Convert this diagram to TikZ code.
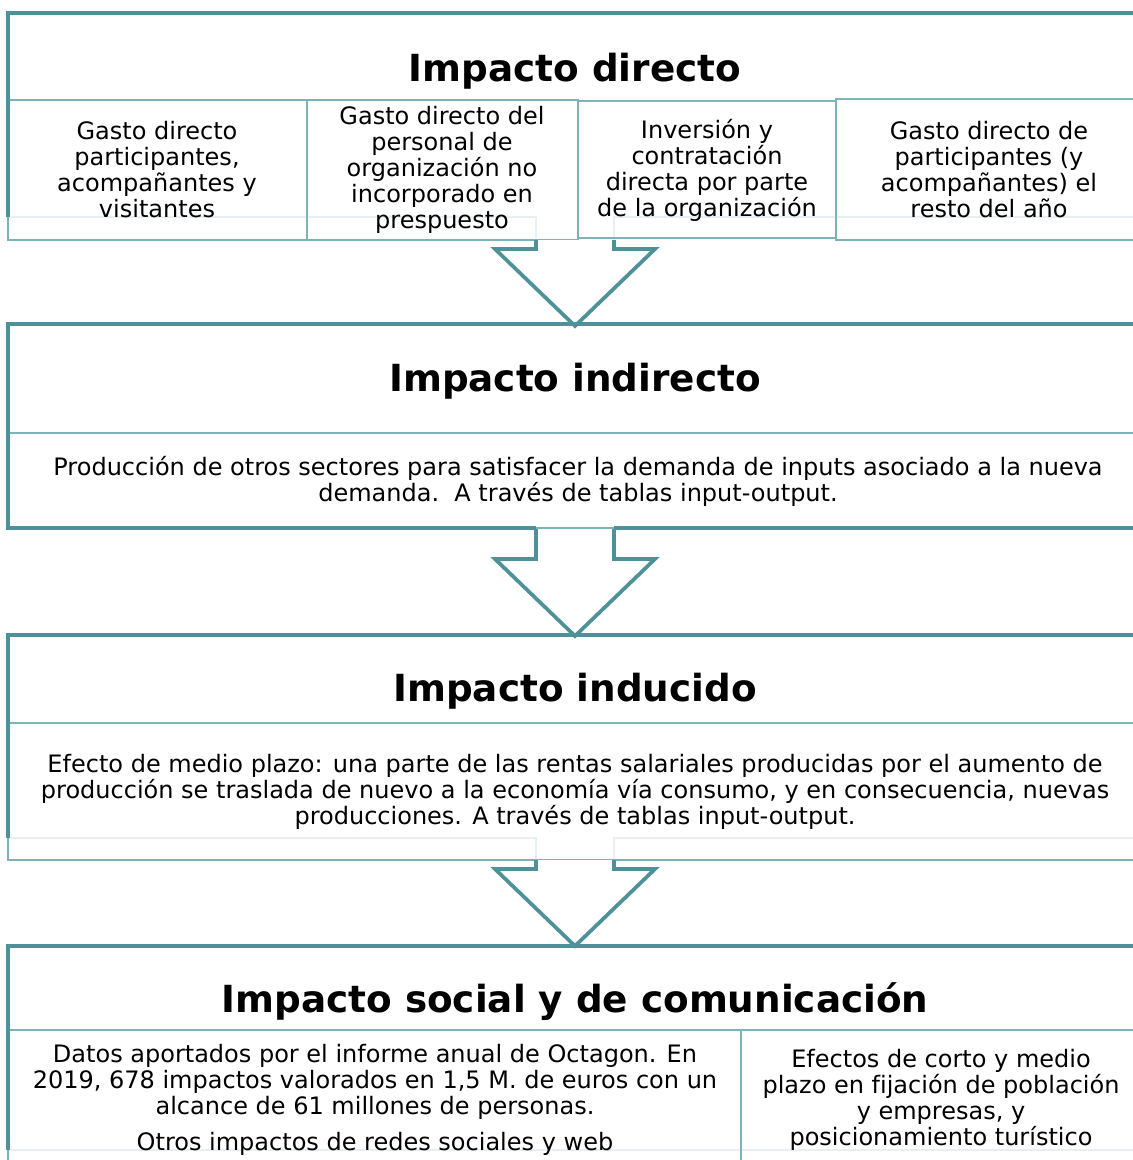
\documentclass[tikz,border=0pt]{standalone}
\usepackage{fontspec}
\setmainfont{DejaVu Sans}[Ligatures=NoCommon]
\definecolor{tdark}{HTML}{4F9199}
\definecolor{tlight}{HTML}{7DB2B9}
\definecolor{tfaint}{HTML}{E6EFF1}
\begin{document}
\begin{tikzpicture}[x=0.75pt,y=-0.75pt,
  dk/.style={draw=tdark,line width=2.8pt},
  lt/.style={draw=tlight,line width=1.9pt},
  fl/.style={draw=tfaint,line width=1.9pt},
  arr/.style={draw=tdark,line width=2.8pt,fill=white,line join=miter},
  ttl/.style={font=\fontsize{28}{30}\selectfont\bfseries,inner sep=0pt},
  body/.style={font=\fontsize{18}{19.5}\selectfont,align=center,inner sep=0pt}]
\useasboundingbox (0,0) rectangle (1132,1160);

% ---------- Level 1 ----------
\draw[fl] (8,217) -- (536,217) -- (536,240);
\draw[fl] (614,240) -- (614,217) -- (1145,217);
\draw[lt] (8,100) rectangle (307,240);
\draw[lt] (307,100) rectangle (578,240);
\draw[lt] (578,101) rectangle (836,238);
\draw[lt] (836,99) rectangle (1145,240);
\draw[dk] (1145,13) -- (8,13) -- (8,217);
\draw[arr] (536,240) -- (536,249) -- (495,249) -- (575,326) -- (655,249) -- (614,249) -- (614,240);

\node[ttl] (t1) at (575,71) {Impacto directo};
\node[body] (a1) at (157,170) {Gasto directo\\participantes,\\acompañantes y\\visitantes};
\node[body] (b1) at (442,170) {Gasto directo del\\personal de\\organización no\\incorporado en\\prespuesto};
\node[body] (c1) at (707,170) {Inversión y\\contratación\\directa por parte\\de la organización};
\node[body] (d1) at (989,170) {Gasto directo de\\participantes (y\\acompañantes) el\\resto del año};

% ---------- Level 2 ----------
\draw[lt] (8,433) rectangle (1145,528);
\draw[dk] (1145,324) -- (8,324) -- (8,528) -- (536,528);
\draw[dk] (614,528) -- (1145,528);
\draw[arr] (536,528) -- (536,559) -- (495,559) -- (575,636) -- (655,559) -- (614,559) -- (614,528);
\draw[lt] (536,528) -- (614,528);

\node[ttl] (t2) at (575,381) {Impacto indirecto};
\node[body] (p2) at (578,481) {Producción de otros sectores para satisfacer la demanda de inputs asociado a la nueva\\demanda.~~A través de tablas input-output.};

% ---------- Level 3 ----------
\draw[fl] (8,838) -- (536,838) -- (536,860);
\draw[fl] (614,860) -- (614,838) -- (1145,838);
\draw[lt] (8,723) rectangle (1145,860);
\draw[dk] (1145,635) -- (8,635) -- (8,838);
\draw[arr] (536,860) -- (536,869) -- (495,869) -- (575,946) -- (655,869) -- (614,869) -- (614,860);

\node[ttl] (t3) at (575,691) {Impacto inducido};
\node[body] (p3) at (575,792) {Efecto de medio plazo: una parte de las rentas salariales producidas por el aumento de\\producción se traslada de nuevo a la economía vía consumo, y en consecuencia, nuevas\\producciones. A través de tablas input-output.};

% ---------- Level 4 ----------
\draw[fl] (8,1150) -- (1145,1150);
\draw[lt] (8,1030) rectangle (741,1180);
\draw[lt] (741,1030) rectangle (1145,1180);
\draw[dk] (1145,946) -- (8,946) -- (8,1150);

\node[ttl] (t4) at (575,1002) {Impacto social y de comunicación};
\node[body] (l4) at (375,1100) {Datos aportados por el informe anual de Octagon. En\\2019, 678 impactos valorados en 1,5 M. de euros con un\\alcance de 61 millones de personas.\\[7.5pt]Otros impactos de redes sociales y web};
\node[body] (r4) at (941,1100) {Efectos de corto y medio\\plazo en fijación de población\\y empresas, y\\posicionamiento turístico};
\end{tikzpicture}
\end{document}
